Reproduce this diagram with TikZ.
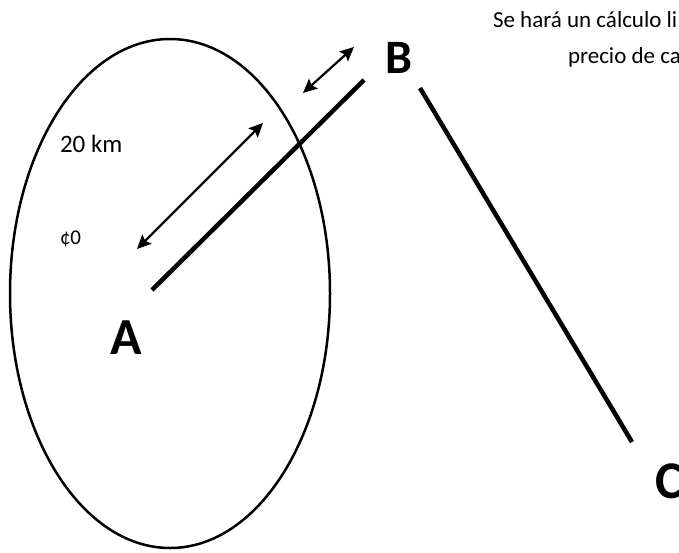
\documentclass[tikz,border=0pt]{standalone}
\usepackage{fontspec}
\setmainfont{Carlito}
\usetikzlibrary{arrows.meta}
\begin{document}
\begin{tikzpicture}[x=1pt,y=-1pt,
  txt/.style={inner sep=0pt,outer sep=0pt,anchor=base west},
  big/.style={txt,font=\bfseries\fontsize{#1}{#1}\selectfont},
  thickline/.style={line width=4.5pt},
  dbl/.style={line width=2.2pt,{Stealth[length=14pt,width=13pt,inset=2.5pt]}-{Stealth[length=14pt,width=13pt,inset=2.5pt]}},
  circ/.style={line width=2.5pt}]
\useasboundingbox (0,0) rectangle (679,552);
\draw[circ] (170,293.5) ellipse [x radius=160, y radius=254.5];
% coordinates
\coordinate (a1) at (152,290);
\coordinate (a2) at (364,80);
\coordinate (b1) at (420,88);
\coordinate (b2) at (632,442);
\coordinate (p1) at (137,249);
\coordinate (p2) at (263,123);
\coordinate (q1) at (303,93);
\coordinate (q2) at (354,47);
\draw[thickline] (a1) -- (a2);
\draw[thickline] (b1) -- (b2);
\draw[dbl] (p1) -- (p2);
\draw[dbl] (q1) -- (q2);
% labels
\node[big=52] (A) at (110,354) {A};
\node[big=48] (B) at (385,73) {B};
\node[big=53] (C) at (655,498) {C};
\node[txt,font=\fontsize{25}{25}\selectfont] (km) at (60,152) {20 km};
\node[txt,font=\fontsize{21}{21}\selectfont] (c0) at (60,244) {¢0};
\node[txt,font=\fontsize{23}{23}\selectfont] (t1) at (493,27) {Se hará un cálculo li};
\node[txt,font=\fontsize{23}{23}\selectfont] (t2) at (568,63) {precio de ca};
\end{tikzpicture}
\end{document}
